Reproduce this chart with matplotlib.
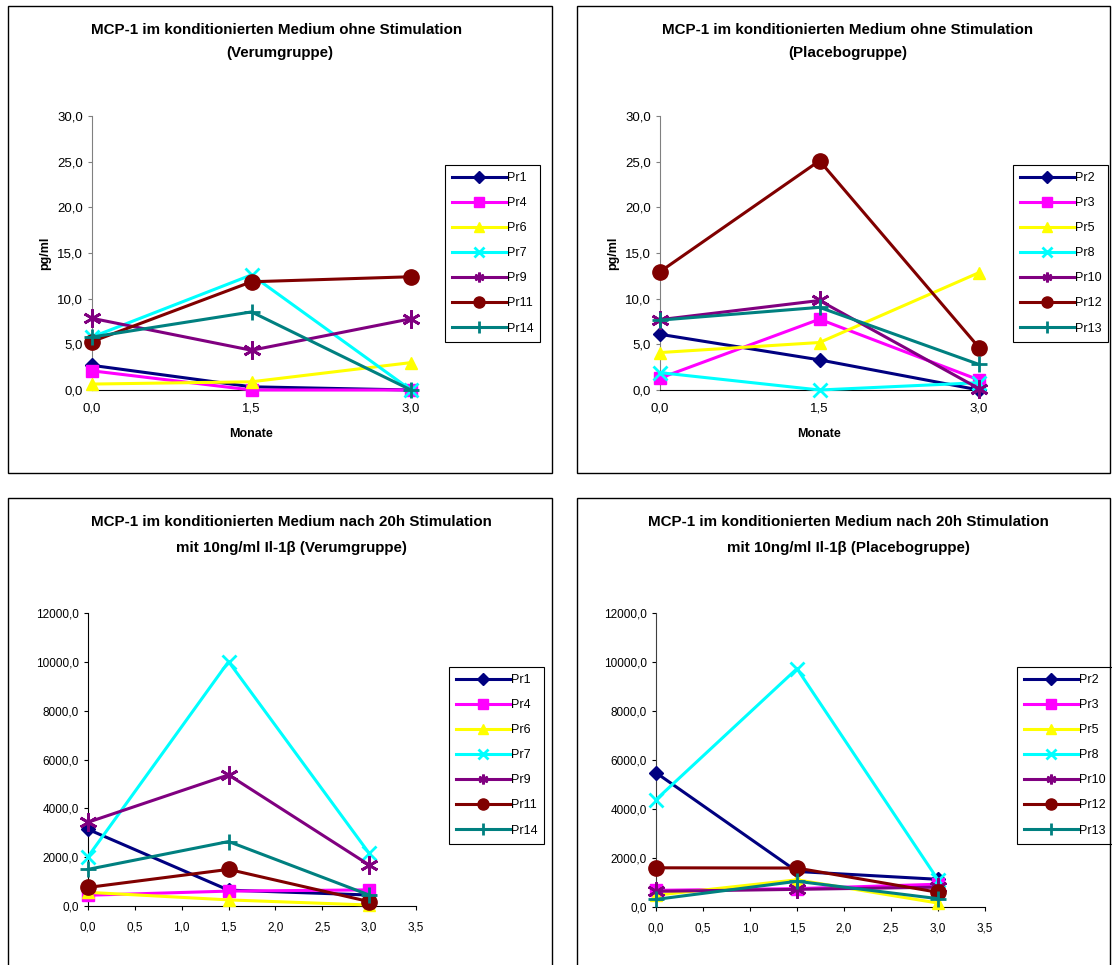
import matplotlib
matplotlib.use("Agg")
import matplotlib.pyplot as plt
from matplotlib.lines import Line2D
from matplotlib.patches import Rectangle
from matplotlib.ticker import FuncFormatter

plt.rcParams['font.family'] = ['Liberation Sans', 'DejaVu Sans']

W, H = 1112, 965

months = [0.0, 1.5, 3.0]

# Verumgruppe, ohne Stimulation (pg/ml)
verum_labels = ["Pr1", "Pr4", "Pr6", "Pr7", "Pr9", "Pr11", "Pr14"]
verum_basal = [
    [2.7, 0.35, 0.0],
    [2.1, 0.0, 0.0],
    [0.65, 0.9, 3.0],
    [5.8, 12.6, 0.0],
    [7.85, 4.35, 7.8],
    [5.3, 11.85, 12.4],
    [5.8, 8.55, 0.0],
]

# Placebogruppe, ohne Stimulation (pg/ml)
placebo_labels = ["Pr2", "Pr3", "Pr5", "Pr8", "Pr10", "Pr12", "Pr13"]
placebo_basal = [
    [6.1, 3.3, 0.0],
    [1.3, 7.75, 1.1],
    [4.1, 5.2, 12.85],
    [1.9, 0.0, 0.8],
    [7.7, 9.8, 0.15],
    [12.95, 25.1, 4.65],
    [7.65, 9.05, 2.8],
]

# nach 20h Stimulation mit Il-1b
verum_stim = [
    [3140, 650, 450],
    [440, 610, 660],
    [560, 250, 40],
    [2020, 10010, 2160],
    [3430, 5370, 1680],
    [760, 1500, 180],
    [1500, 2640, 450],
]
placebo_stim = [
    [5480, 1450, 1130],
    [680, 750, 930],
    [480, 1110, 160],
    [4380, 9730, 1110],
    [640, 720, 810],
    [1600, 1590, 600],
    [310, 1050, 340],
]

colors = ["#000080", "#FF00FF", "#FFFF00", "#00FFFF", "#800080", "#800000", "#008080"]
asterisk = (6, 2, 0)
markers = ["D", "s", "^", "x", asterisk, "o", "+"]
msizes = [7, 8, 9, 10, 13, 11, 12]
mew = [1, 1, 1, 2, 2, 1, 2]
lg_sizes = [6, 7, 7, 7, 7, 8, 8]

comma = FuncFormatter(lambda v, p: f"{v:.1f}".replace(".", ","))

fig = plt.figure(figsize=(W / 100, H / 100), dpi=100)


def px_axes(x0, x1, y_top, y_bot):
    return fig.add_axes([x0 / W, 1 - y_bot / H, (x1 - x0) / W, (y_bot - y_top) / H])


def frame(x0, y0, x1, y1):
    fig.patches.append(Rectangle((x0 / W, 1 - y1 / H), (x1 - x0) / W, (y1 - y0) / H,
                                 transform=fig.transFigure, fill=False,
                                 edgecolor="black", lw=1.0))


def draw(ax, data, labels, leg_x, leg_y, tsize):
    for i, row in enumerate(data):
        ax.plot(months, row, color=colors[i], lw=2.2, marker=markers[i],
                ms=msizes[i], mew=mew[i], mec=colors[i], mfc=colors[i],
                clip_on=False, zorder=3)
    for s in ("top", "right"):
        ax.spines[s].set_visible(False)
    ax.spines["bottom"].set_color("black")
    ax.yaxis.set_major_formatter(comma)
    ax.xaxis.set_major_formatter(comma)
    ax.tick_params(labelsize=tsize, colors="black")
    handles = [Line2D([], [], color=colors[i], lw=2.2, marker=markers[i],
                      ms=lg_sizes[i], mew=mew[i], mec=colors[i], mfc=colors[i])
               for i in range(len(labels))]
    leg = ax.legend(handles, labels, loc="upper left",
                    bbox_to_anchor=(leg_x / W, 1 - leg_y / H),
                    bbox_transform=fig.transFigure, fontsize=9, frameon=True,
                    fancybox=False, edgecolor="black", framealpha=1,
                    handlelength=4.3, handletextpad=0.1, labelspacing=1.05,
                    borderpad=0.55, borderaxespad=0)
    leg.get_frame().set_linewidth(0.8)


title_kw = dict(fontsize=10.9, fontweight="bold", ha="center", va="center")
lab_kw = dict(fontsize=9, fontweight="bold", ha="center", va="center")

# --- top left
frame(8, 6, 552, 473)
ax1 = px_axes(92, 411, 116, 390)
draw(ax1, verum_basal, verum_labels, 445, 165, 9.5)
ax1.set_xlim(0, 3); ax1.set_ylim(0, 30)
ax1.set_xticks(months); ax1.set_yticks(range(0, 31, 5))
ax1.spines["left"].set_color("#808080")
ax1.tick_params(axis="x", length=0, pad=9)
ax1.tick_params(axis="y", length=3, color="#808080")
fig.text(277 / W, 1 - 30 / H, "MCP-1 im konditionierten Medium ohne Stimulation", **title_kw)
fig.text(280 / W, 1 - 53 / H, "(Verumgruppe)", **title_kw)
fig.text(45 / W, 1 - 253 / H, "pg/ml", rotation=90, **lab_kw)
fig.text(251 / W, 1 - 434 / H, "Monate", **lab_kw)

# --- top right
frame(577, 6, 1110, 473)
ax2 = px_axes(660, 979, 116, 390)
draw(ax2, placebo_basal, placebo_labels, 1013, 165, 9.5)
ax2.set_xlim(0, 3); ax2.set_ylim(0, 30)
ax2.set_xticks(months); ax2.set_yticks(range(0, 31, 5))
ax2.spines["left"].set_color("#808080")
ax2.tick_params(axis="x", length=0, pad=9)
ax2.tick_params(axis="y", length=3, color="#808080")
fig.text(848 / W, 1 - 30 / H, "MCP-1 im konditionierten Medium ohne Stimulation", **title_kw)
fig.text(848 / W, 1 - 53 / H, "(Placebogruppe)", **title_kw)
fig.text(613 / W, 1 - 253 / H, "pg/ml", rotation=90, **lab_kw)
fig.text(819 / W, 1 - 434 / H, "Monate", **lab_kw)

# --- bottom left
frame(8, 498, 552, 970)
ax3 = px_axes(88, 416, 613, 906)
draw(ax3, verum_stim, verum_labels, 449, 667, 8.5)
ax3.set_xlim(0, 3.5); ax3.set_ylim(0, 12000)
ax3.set_xticks([i * 0.5 for i in range(8)]); ax3.set_yticks(range(0, 12001, 2000))
ax3.spines["left"].set_color("black")
ax3.tick_params(axis="both", length=3)
ax3.tick_params(axis="x", pad=8)
fig.text(291 / W, 1 - 522 / H, "MCP-1 im konditionierten Medium nach 20h Stimulation", **title_kw)
fig.text(291 / W, 1 - 548 / H, "mit 10ng/ml Il-1\u03b2 (Verumgruppe)", **title_kw)

# --- bottom right
frame(577, 498, 1110, 970)
ax4 = px_axes(656, 985, 613, 907)
draw(ax4, placebo_stim, placebo_labels, 1017, 667, 8.5)
ax4.set_xlim(0, 3.5); ax4.set_ylim(0, 12000)
ax4.set_xticks([i * 0.5 for i in range(8)]); ax4.set_yticks(range(0, 12001, 2000))
ax4.spines["left"].set_color("#404040")
ax4.tick_params(axis="both", length=3)
ax4.tick_params(axis="x", pad=8)
fig.text(848 / W, 1 - 522 / H, "MCP-1 im konditionierten Medium nach 20h Stimulation", **title_kw)
fig.text(848 / W, 1 - 548 / H, "mit 10ng/ml Il-1\u03b2 (Placebogruppe)", **title_kw)

fig.savefig("out.png", dpi=100)
